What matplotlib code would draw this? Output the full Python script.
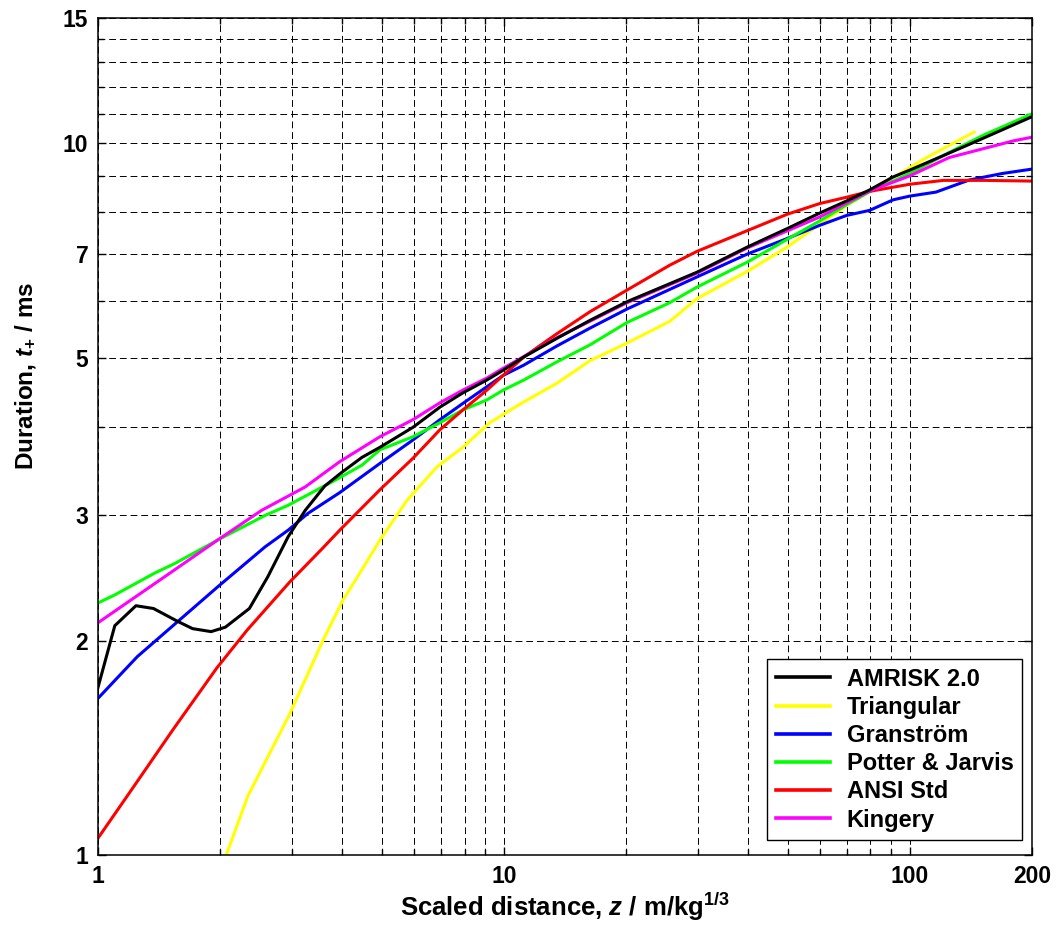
import numpy as np
import matplotlib
matplotlib.use("Agg")
import matplotlib.pyplot as plt
from matplotlib.ticker import FixedLocator, NullFormatter, FixedFormatter

plt.rcParams['font.family'] = ['Liberation Sans', 'DejaVu Sans']
plt.rcParams['font.weight'] = 'bold'
plt.rcParams['mathtext.fontset'] = 'custom'
plt.rcParams['mathtext.rm'] = 'Liberation Sans:bold'
plt.rcParams['mathtext.it'] = 'Liberation Sans:italic:bold'
plt.rcParams['mathtext.bf'] = 'Liberation Sans:bold'

# positive phase duration vs scaled distance, one pair of lists per model
x_amrisk = [1.0, 1.10, 1.24, 1.37, 1.57, 1.71, 1.90, 2.06, 2.36, 2.62, 2.94, 3.24, 3.62, 3.99,
            4.47, 4.95, 5.97, 6.96, 7.92, 9.08, 9.96, 11.2, 13.5, 16.3, 20.1, 29.9, 39.8, 49.9,
            60.0, 69.9, 79.6, 91.0, 100.0, 142.0, 200.0]
y_amrisk = [1.72, 2.10, 2.24, 2.22, 2.13, 2.08, 2.06, 2.09, 2.22, 2.46, 2.80, 3.05, 3.30, 3.45,
            3.62, 3.74, 3.99, 4.26, 4.46, 4.65, 4.80, 5.01, 5.32, 5.64, 5.99, 6.59, 7.15, 7.59,
            7.98, 8.30, 8.60, 8.97, 9.17, 10.0, 10.9]

x_tri = [2.07, 2.34, 2.97, 3.58, 4.01, 4.34, 4.95, 5.77, 6.84, 7.92, 9.23, 11.1, 13.5, 16.3,
         20.1, 25.6, 29.9, 39.8, 49.9, 60.0, 71.0, 86.0, 110.0, 144.0]
y_tri = [1.0, 1.21, 1.58, 2.0, 2.28, 2.45, 2.77, 3.15, 3.51, 3.74, 4.05, 4.32, 4.60, 4.95,
         5.24, 5.62, 6.05, 6.61, 7.15, 7.70, 8.23, 8.78, 9.55, 10.37]

x_gran = [1.0, 1.25, 1.97, 2.58, 2.94, 3.29, 3.94, 4.95, 5.97, 6.96, 7.92, 9.08, 9.96, 11.2,
          13.5, 16.3, 20.1, 29.9, 39.8, 49.9, 60.0, 69.9, 79.6, 91.0, 100.0, 116.0, 140.0,
          169.0, 200.0]
y_gran = [1.66, 1.90, 2.38, 2.71, 2.86, 3.02, 3.23, 3.55, 3.83, 4.09, 4.31, 4.55, 4.72, 4.88,
          5.19, 5.50, 5.85, 6.49, 6.99, 7.35, 7.67, 7.92, 8.05, 8.33, 8.43, 8.54, 8.88,
          9.07, 9.20]

x_pj = [1.0, 1.10, 1.38, 1.55, 1.97, 2.58, 2.94, 3.83, 4.47, 4.95, 5.97, 6.96, 7.92, 9.08,
        9.96, 11.2, 13.5, 16.3, 20.1, 25.6, 29.9, 39.8, 49.9, 60.0, 69.9, 79.6, 100.0, 125.0,
        152.0, 200.0]
y_pj = [2.26, 2.32, 2.49, 2.57, 2.77, 3.00, 3.10, 3.36, 3.53, 3.71, 3.87, 4.05, 4.22, 4.36,
        4.50, 4.65, 4.93, 5.21, 5.60, 5.97, 6.28, 6.81, 7.33, 7.78, 8.20, 8.55, 9.07, 9.71,
        10.27, 11.0]

x_ansi = [1.0, 1.18, 1.53, 1.96, 2.33, 2.97, 3.58, 3.94, 4.95, 5.97, 6.96, 7.92, 9.08, 9.96,
          11.2, 13.5, 16.3, 20.1, 25.6, 29.9, 39.8, 49.9, 60.0, 69.9, 79.6, 100.0, 121.0,
          152.0, 200.0]
y_ansi = [1.056, 1.21, 1.50, 1.83, 2.07, 2.42, 2.70, 2.86, 3.26, 3.61, 3.96, 4.22, 4.50, 4.72,
          5.01, 5.40, 5.80, 6.22, 6.74, 7.05, 7.54, 7.95, 8.23, 8.40, 8.56, 8.76, 8.87,
          8.87, 8.85]

x_king = [1.0, 1.23, 1.52, 1.97, 2.53, 3.24, 3.94, 4.95, 5.97, 6.96, 7.92, 9.08, 9.96, 13.5,
          20.1, 29.9, 39.8, 60.0, 79.6, 100.0, 125.0, 180.0, 200.0]
y_king = [2.12, 2.30, 2.50, 2.77, 3.05, 3.29, 3.57, 3.87, 4.09, 4.32, 4.50, 4.68, 4.83, 5.33,
          5.97, 6.57, 7.13, 7.88, 8.57, 9.00, 9.55, 10.08, 10.2]

y_ticks = [1, 2, 3, 5, 7, 10, 15]
y_minor = [4, 6, 8, 9, 11, 12, 13, 14]
x_ticks = [1, 10, 100, 200]
x_minor = [2, 3, 4, 5, 6, 7, 8, 9, 20, 30, 40, 50, 60, 70, 80, 90]

fig = plt.figure(figsize=(10.61, 9.25), dpi=100)
ax = fig.add_axes([98 / 1061, 1 - 855 / 925, 934 / 1061, 837 / 925])
ax.set_xscale('log')
ax.set_yscale('log')

lw = 2.2
h_tri, = ax.plot(x_tri, y_tri, color='#ffff00', lw=lw, label='Triangular')
h_gran, = ax.plot(x_gran, y_gran, color='#0000ff', lw=lw, label='Granström')
h_pj, = ax.plot(x_pj, y_pj, color='#00ff00', lw=lw, label='Potter & Jarvis')
h_ansi, = ax.plot(x_ansi, y_ansi, color='#ff0000', lw=lw, label='ANSI Std')
h_king, = ax.plot(x_king, y_king, color='#ff00ff', lw=lw, label='Kingery')
h_amr, = ax.plot(x_amrisk, y_amrisk, color='black', lw=lw, label='AMRISK 2.0')

ax.set_xlim(1, 200)
ax.set_ylim(1, 15)

ax.xaxis.set_major_locator(FixedLocator(x_ticks))
ax.xaxis.set_major_formatter(FixedFormatter([str(v) for v in x_ticks]))
ax.xaxis.set_minor_locator(FixedLocator(x_minor))
ax.xaxis.set_minor_formatter(NullFormatter())
ax.yaxis.set_major_locator(FixedLocator(y_ticks))
ax.yaxis.set_major_formatter(FixedFormatter([str(v) for v in y_ticks]))
ax.yaxis.set_minor_locator(FixedLocator(y_minor))
ax.yaxis.set_minor_formatter(NullFormatter())

ax.tick_params(which='both', direction='in', top=True, right=True, width=1.0,
               labelsize=16.5, pad=7)
ax.tick_params(which='major', length=6)
ax.tick_params(which='minor', length=4)
for t in ax.get_xticklabels() + ax.get_yticklabels():
    t.set_fontweight('bold')

ax.grid(True, which='both', color='black', lw=0.7, linestyle=(0, (7, 4)))
ax.set_axisbelow(True)
for s in ax.spines.values():
    s.set_linewidth(1.1)

ax.set_xlabel(r'Scaled distance, $\it{z}$ / m/kg$^{1/3}$', fontsize=18.5, fontweight='bold',
              labelpad=2)
ax.set_ylabel(r'Duration, $\it{t}_{+}$ / ms', fontsize=17.5, fontweight='bold')
ax.yaxis.set_label_coords(-0.064, 0.572)

leg = ax.legend(handles=[h_amr, h_tri, h_gran, h_pj, h_ansi, h_king], loc='lower right',
                bbox_to_anchor=(0.989, 0.018), borderaxespad=0, fancybox=False,
                framealpha=1, edgecolor='black', fontsize=17, handlelength=2.3,
                handletextpad=0.7, labelspacing=0.22, borderpad=0.35)
leg.get_frame().set_linewidth(1.0)
for t in leg.get_texts():
    t.set_fontweight('bold')
for h in leg.get_lines():
    h.set_linewidth(2.6)

fig.savefig('out.png', dpi=100)
